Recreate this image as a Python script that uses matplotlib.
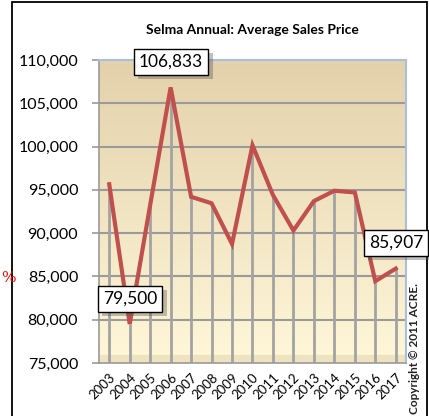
import numpy as np
import matplotlib
matplotlib.use("Agg")
import matplotlib.pyplot as plt
import matplotlib.patheffects as pe
from matplotlib.patches import Rectangle

years = ["2003", "2004", "2005", "2006", "2007", "2008", "2009", "2010",
         "2011", "2012", "2013", "2014", "2015", "2016", "2017"]
prices = [95650, 79500, 93250, 106833, 94200, 93450, 88750, 100150,
          94400, 90300, 93700, 94900, 94700, 84450, 85907]
y_ticks = [75000, 80000, 85000, 90000, 95000, 100000, 105000, 110000]
labelled = {"2006": "106,833", "2004": "79,500", "2017": "85,907"}

plt.rcParams['font.family'] = ['Lato', 'DejaVu Sans']

fig = plt.figure(figsize=(4.29, 4.16), dpi=100)
ax = fig.add_axes([99 / 429, 1 - 363 / 416, 307 / 429, 303 / 416])

x = np.arange(len(years))
ax.set_xlim(-0.5, len(years) - 0.5)
ax.set_ylim(75000, 110000)

# beige gradient wall like the Excel 3D chart
grad = np.linspace(0, 1, 256).reshape(-1, 1)
top = np.array([0.89, 0.82, 0.67])
bottom = np.array([1.0, 0.97, 0.85])
img = bottom + (top - bottom) * grad
ax.imshow(img[:, None, :].repeat(2, axis=1), extent=[-0.5, len(years) - 0.5, 75000, 110000],
          aspect="auto", origin="lower", zorder=0)
ax.add_patch(Rectangle((-0.5, 75000), len(years), 900, color="#efe3bf", zorder=0.5))

for t in y_ticks[1:-1]:
    ax.axhline(t, color="#9a9a9a", lw=1.5, zorder=1)

# drop lines
ax.vlines(x, 75000, prices, color="#a3a3a3", lw=2, zorder=2)
ax.plot(x, prices, color="#c0504d", lw=3, solid_joinstyle="miter", zorder=3)

for s in ["left", "bottom"]:
    ax.spines[s].set_color("#9a9a9a")
    ax.spines[s].set_linewidth(1.2)
for s in ["top", "right"]:
    ax.spines[s].set_color("#a9bfe0")
    ax.spines[s].set_linewidth(1.5)

ax.set_yticks(y_ticks)
ax.set_yticklabels([f"{v:,}" for v in y_ticks], fontsize=11.5)
ax.tick_params(axis="y", length=5, color="#9a9a9a", width=1.2, pad=10)
ax.set_xticks(x)
ax.set_xticklabels(years, rotation=45, ha="right", rotation_mode="anchor", fontsize=9.5)
ax.tick_params(axis="x", length=0, pad=6)

ax.set_title("Selma Annual: Average Sales Price", fontsize=10, fontweight="bold", pad=19)

label_pos = {"2006": (171 / 429, 1 - 62 / 416),
             "2004": (130 / 429, 1 - 299 / 416),
             "2017": (396 / 429, 1 - 243 / 416)}
for yr, txt in labelled.items():
    t = fig.text(*label_pos[yr], txt, fontsize=12.5, ha="center", va="center", zorder=10,
                 bbox=dict(boxstyle="square,pad=0.3", fc="white", ec="black", lw=1))
    t.get_bbox_patch().set_path_effects([pe.SimplePatchShadow(offset=(3, -3), alpha=0.35), pe.Normal()])

# outer frame and side notes
fig.patches.append(Rectangle((12 / 429, -0.05), 415 / 429, 1 - 2 / 416 + 0.05, transform=fig.transFigure,
                             fill=False, ec="black", lw=1.3))
fig.text(415 / 429, 0.004, "Copyright \u00a9 2011 ACRE.", rotation=90, fontsize=8.5, fontweight="bold",
         ha="center", va="bottom", color="#222222")
fig.text(1 / 429, 1 - 278 / 416, "%", color="red", fontsize=11, family="DejaVu Serif", ha="left", va="center")

fig.savefig("out.png", dpi=100)
